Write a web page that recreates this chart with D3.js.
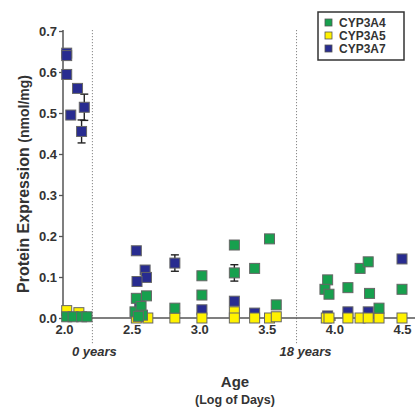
<!DOCTYPE html>
<html>
<head>
<meta charset="utf-8">
<script src="https://cdn.jsdelivr.net/npm/d3@7"></script>
<style>
  body { margin: 0; background: #fff; }
  svg text { font-family: "Liberation Sans", Arial, sans-serif; }
</style>
</head>
<body>
<svg id="chart" width="415" height="409"></svg>
<script>
// age in log10(days), protein in nmol/mg, e = error bar half-height
var cyp3a7 = [
  { x: 2.02, y: 0.646 }, { x: 2.02, y: 0.640 }, { x: 2.02, y: 0.594 },
  { x: 2.05, y: 0.495 }, { x: 2.10, y: 0.560 },
  { x: 2.15, y: 0.514, e: 0.032 }, { x: 2.13, y: 0.455, e: 0.028 },
  { x: 2.535, y: 0.164 }, { x: 2.60, y: 0.117 }, { x: 2.61, y: 0.099 },
  { x: 2.54, y: 0.089, e: 0.008 }, { x: 2.56, y: 0.037 },
  { x: 2.82, y: 0.134, e: 0.02 },
  { x: 3.02, y: 0.020 }, { x: 3.26, y: 0.041 }, { x: 3.41, y: 0.012 },
  { x: 3.95, y: 0.005 }, { x: 4.10, y: 0.015 }, { x: 4.25, y: 0.015 },
  { x: 4.50, y: 0.144 }
];
var cyp3a5 = [
  { x: 2.02, y: 0.018 }, { x: 2.11, y: 0.013 },
  { x: 2.535, y: 0.0 }, { x: 2.62, y: 0.0 }, { x: 2.82, y: 0.0 },
  { x: 3.02, y: 0.0 }, { x: 3.26, y: 0.015 }, { x: 3.26, y: 0.0 },
  { x: 3.41, y: 0.0 }, { x: 3.52, y: 0.0 }, { x: 3.57, y: 0.003 },
  { x: 3.94, y: 0.0 }, { x: 3.96, y: 0.0 }, { x: 4.10, y: 0.0 },
  { x: 4.19, y: 0.0 }, { x: 4.25, y: 0.0 }, { x: 4.33, y: 0.0 },
  { x: 4.50, y: 0.0 }
];
var cyp3a4 = [
  { x: 2.02, y: 0.003 }, { x: 2.067, y: 0.003 }, { x: 2.13, y: 0.003 }, { x: 2.17, y: 0.003 },
  { x: 2.535, y: 0.048 }, { x: 2.61, y: 0.054 }, { x: 2.525, y: 0.015 },
  { x: 2.57, y: 0.028 }, { x: 2.58, y: 0.007 }, { x: 2.55, y: 0.004 },
  { x: 2.82, y: 0.024 },
  { x: 3.02, y: 0.103 }, { x: 3.02, y: 0.056 },
  { x: 3.26, y: 0.178, e: 0.01 }, { x: 3.26, y: 0.110, e: 0.02 },
  { x: 3.41, y: 0.121 }, { x: 3.52, y: 0.193, e: 0.008 }, { x: 3.57, y: 0.032 },
  { x: 3.95, y: 0.093 }, { x: 3.93, y: 0.070 }, { x: 3.96, y: 0.058 },
  { x: 4.10, y: 0.074 }, { x: 4.19, y: 0.121 }, { x: 4.25, y: 0.137, e: 0.01 },
  { x: 4.26, y: 0.060 }, { x: 4.33, y: 0.024 }, { x: 4.50, y: 0.070 }
];
var seriesNames = ["CYP3A4", "CYP3A5", "CYP3A7"];
var yTicks = [0.0, 0.1, 0.2, 0.3, 0.4, 0.5, 0.6, 0.7];
var xTicks = [2.0, 2.5, 3.0, 3.5, 4.0, 4.5];
var markers = [{ x: 2.21, label: "0 years" }, { x: 3.72, label: "18 years" }];

var colors = { CYP3A4: "#17a04e", CYP3A5: "#fff200", CYP3A7: "#282c90" };

var svg = d3.select("#chart");
var x = d3.scaleLinear().domain([2.0, 4.5]).range([64, 402]);
var y = d3.scaleLinear().domain([0, 0.7]).range([318, 31]);

// dotted age markers
markers.forEach(function (m) {
  svg.append("line")
    .attr("x1", x(m.x)).attr("x2", x(m.x))
    .attr("y1", 30).attr("y2", 344)
    .attr("stroke", "#888").attr("stroke-width", 1)
    .attr("stroke-dasharray", "1.2,1.8");
});
svg.append("text").attr("x", x(2.21) + 2).attr("y", 356)
  .attr("text-anchor", "middle").attr("font-size", 13)
  .attr("font-weight", "bold").attr("font-style", "italic").attr("fill", "#333")
  .text(markers[0].label);
svg.append("text").attr("x", x(3.72) + 9).attr("y", 356)
  .attr("text-anchor", "middle").attr("font-size", 13)
  .attr("font-weight", "bold").attr("font-style", "italic").attr("fill", "#333")
  .text(markers[1].label);

// axes
var yAxis = svg.append("g").attr("transform", "translate(63,0)")
  .call(d3.axisLeft(y).tickValues(yTicks).tickFormat(d3.format(".1f")).tickSize(4).tickPadding(2));
var xAxis = svg.append("g").attr("transform", "translate(0,318)")
  .call(d3.axisBottom(x).tickValues(xTicks).tickFormat(d3.format(".1f")).tickSize(3).tickPadding(4));
[yAxis, xAxis].forEach(function (g) {
  g.select(".domain").remove();
  g.selectAll("line").attr("stroke", "#555").attr("stroke-width", 1.3);
  g.selectAll("text").attr("font-size", 13).attr("font-weight", "bold")
    .attr("fill", "#333").style("font-family", "Liberation Sans, Arial, sans-serif");
});
svg.append("line").attr("x1", 63).attr("x2", 63).attr("y1", 30).attr("y2", 318)
  .attr("stroke", "#555").attr("stroke-width", 1.5);
svg.append("line").attr("x1", 63).attr("x2", 415).attr("y1", 318).attr("y2", 318)
  .attr("stroke", "#555").attr("stroke-width", 1.5);

// axis titles
svg.append("text").attr("transform", "translate(29,184) rotate(-90)")
  .attr("text-anchor", "middle").attr("fill", "#333").attr("font-weight", "bold")
  .call(function (t) {
    t.append("tspan").attr("font-size", 16).text("Protein Expression ");
    t.append("tspan").attr("font-size", 14).text("(nmol/mg)");
  });
svg.append("text").attr("x", 235).attr("y", 387).attr("text-anchor", "middle")
  .attr("font-size", 15).attr("font-weight", "bold").attr("fill", "#333").text("Age");
svg.append("text").attr("x", 235).attr("y", 404).attr("text-anchor", "middle")
  .attr("font-size", 12.5).attr("font-weight", "bold").attr("fill", "#333").text("(Log of Days)");

// points
var s = 10;
function drawSeries(data, name) {
  var g = svg.append("g");
  var eb = data.filter(function (d) { return d.e; });
  eb.forEach(function (d) {
    var cx = x(d.x);
    g.append("line").attr("x1", cx).attr("x2", cx)
      .attr("y1", y(d.y + d.e)).attr("y2", y(d.y - d.e))
      .attr("stroke", "#222").attr("stroke-width", 1.4);
    [d.y + d.e, d.y - d.e].forEach(function (v) {
      g.append("line").attr("x1", cx - 4).attr("x2", cx + 4)
        .attr("y1", y(v)).attr("y2", y(v))
        .attr("stroke", "#222").attr("stroke-width", 1.4);
    });
  });
  g.selectAll("rect").data(data).enter().append("rect")
    .attr("x", function (d) { return x(d.x) - s / 2; })
    .attr("y", function (d) { return y(d.y) - s / 2; })
    .attr("width", s).attr("height", s)
    .attr("fill", colors[name])
    .attr("stroke", "#666").attr("stroke-width", 1);
}
drawSeries(cyp3a7, "CYP3A7");
drawSeries(cyp3a5, "CYP3A5");
drawSeries(cyp3a4, "CYP3A4");

// legend
var lg = svg.append("g").attr("transform", "translate(318,12)");
lg.append("rect").attr("width", 86).attr("height", 48)
  .attr("fill", "#fff").attr("stroke", "#333").attr("stroke-width", 1.5);
seriesNames.forEach(function (n, i) {
  lg.append("rect").attr("x", 7).attr("y", 7 + i * 13).attr("width", 7).attr("height", 7)
    .attr("fill", colors[n]).attr("stroke", "#555").attr("stroke-width", 0.8);
  lg.append("text").attr("x", 21).attr("y", 14.5 + i * 13)
    .attr("font-size", 12).attr("font-weight", "bold").attr("fill", "#333").text(n);
});
</script>
</body>
</html>
